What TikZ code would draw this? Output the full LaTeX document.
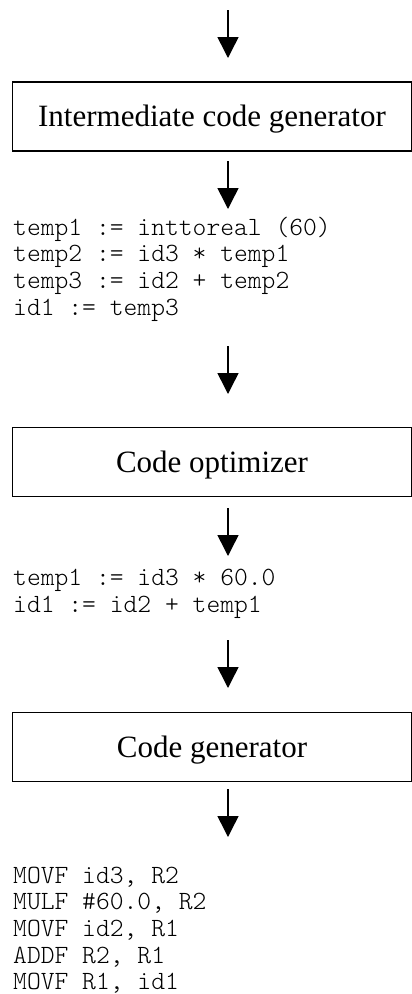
\documentclass[tikz,border=0pt]{standalone}
\usepackage{fontspec}
\setmainfont{Liberation Serif}
\setmonofont{Latin Modern Mono Light}
\usetikzlibrary{arrows.meta}
\begin{document}
\begin{tikzpicture}[x=1pt,y=-1pt,
  stage/.style={draw, line width=1.5pt, minimum width=399pt, minimum height=69pt,
    inner sep=0pt, text height=20pt, text depth=0pt,
    font=\fontsize{31}{37}\selectfont},
  % the base anchor of a multi-line node sits on its last line
  code/.style={anchor=base west, align=left, inner sep=0pt,
    font=\ttfamily\fontsize{26.3}{26.7}\selectfont},
  flow/.style={line width=1.5pt, -{Triangle[width=21pt,length=21pt]}}]
\useasboundingbox (0,0) rectangle (412,994);

% compiler phases
\node[stage] (icg) at (212,116.5) {Intermediate code generator};
\node[stage] (opt) at (212,462) {Code optimizer};
\node[stage] (gen) at (212,747) {Code generator};

% intermediate representations
\node[code] (tac) at (13,315.1) {temp1 := inttoreal (60)\\temp2 := id3 * temp1\\temp3 := id2 + temp2\\id1 := temp3};
\node[code] (opttac) at (13,612) {temp1 := id3 * 60.0\\id1 := id2 + temp1};
\node[code] (asm) at (13,989.8) {MOVF id3, R2\\MULF \#60.0, R2\\MOVF id2, R1\\ADDF R2, R1\\MOVF R1, id1};

% arrow end points
\coordinate (a1s) at (228,10);  \coordinate (a1e) at (228,58);
\coordinate (a2s) at (228,161); \coordinate (a2e) at (228,209);
\coordinate (a3s) at (228,346); \coordinate (a3e) at (228,394);
\coordinate (a4s) at (228,508); \coordinate (a4e) at (228,556);
\coordinate (a5s) at (228,640); \coordinate (a5e) at (228,688);
\coordinate (a6s) at (228,789); \coordinate (a6e) at (228,837);

\draw[flow] (a1s) -- (a1e);
\draw[flow] (a2s) -- (a2e);
\draw[flow] (a3s) -- (a3e);
\draw[flow] (a4s) -- (a4e);
\draw[flow] (a5s) -- (a5e);
\draw[flow] (a6s) -- (a6e);
\end{tikzpicture}
\end{document}
